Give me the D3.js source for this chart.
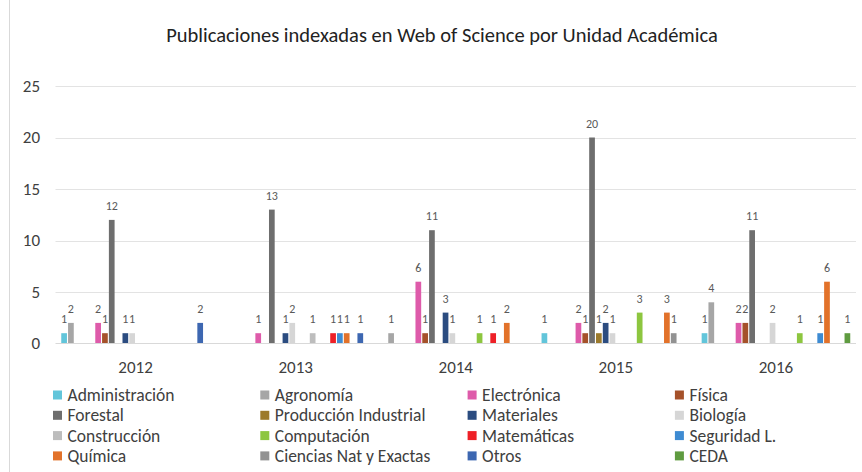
<!DOCTYPE html>
<html>
<head>
  <meta charset="UTF-8">
  <title>Publicaciones indexadas en Web of Science</title>
  <style>
    body { margin: 0; background: #fff; }
    svg { display: block; font-family: Carlito, Lato, "Open Sans", sans-serif; }
  </style>
</head>
<body>
<svg></svg>
<script src="https://d3js.org/d3.v7.min.js"></script>
<script>

let width = 862, height = 472;

// years on the x axis
const years = ["2012", "2013", "2014", "2015", "2016"];

// series in plot order; "" are empty series that still take a slot in each group
const series = ["Administración", "Agronomía", "", "", "",
  "Electrónica", "Física", "Forestal", "Producción Industrial", "Materiales", "Biología",
  "", "", "Construcción", "Computación", "",
  "Matemáticas", "Seguridad L.", "Química", "Ciencias Nat y Exactas", "Otros", "CEDA"];

const colors = ["#62C5DA", "#A6A6A6", "#fff", "#fff", "#fff",
  "#DE5BAA", "#A5512A", "#6E6E6E", "#9C7A2B", "#2B4C80", "#D6D6D6",
  "#fff", "#fff", "#BDBDBD", "#8DC63F", "#fff",
  "#EE2027", "#3E8BD2", "#E2722A", "#929292", "#3D67B1", "#5F9B40"];

// values per series, one per year (null = no bar)
const values = [
  [1, null, null, 1, 1],        // Administración
  [2, null, 1, null, 4],        // Agronomía
  [null, null, null, null, null],
  [null, null, null, null, null],
  [null, null, null, null, null],
  [2, 1, 6, 2, 2],              // Electrónica
  [1, null, 1, 1, 2],           // Física
  [12, 13, 11, 20, 11],         // Forestal
  [null, null, null, 1, null],  // Producción Industrial
  [1, 1, 3, 2, null],           // Materiales
  [1, 2, 1, 1, 2],              // Biología
  [null, null, null, null, null],
  [null, null, null, null, null],
  [null, 1, null, null, null],  // Construcción
  [null, null, 1, 3, 1],        // Computación
  [null, null, null, null, null],
  [null, 1, 1, null, null],     // Matemáticas
  [null, 1, null, null, 1],     // Seguridad L.
  [null, 1, 2, 3, 6],           // Química
  [null, null, null, 1, null],  // Ciencias Nat y Exactas
  [2, 1, null, null, null],     // Otros
  [null, null, null, null, 1]   // CEDA
];

const yTicks = [0, 5, 10, 15, 20, 25];

let svg = d3.select("svg")
    .attr("width", width)
    .attr("height", height);

// chart border on the left
svg.append("line")
  .attr("x1", 9.5).attr("x2", 9.5)
  .attr("y1", 0).attr("y2", height)
  .attr("stroke", "#d9d9d9");

svg.append("text")
  .attr("x", 442)
  .attr("y", 42)
  .attr("text-anchor", "middle")
  .style("font-size", "20.5px")
  .style("fill", "#222")
  .text("Publicaciones indexadas en Web of Science por Unidad Académica");

const plotLeft = 55.5, plotRight = 856;

const x = d3.scaleBand()
  .domain(years)
  .range([plotLeft, plotRight])
  .paddingInner(0.065)
  .paddingOuter(0.0325);

const xs = d3.scaleBand()
  .domain(d3.range(series.length))
  .range([0, x.bandwidth()]);

const y = d3.scaleLinear()
  .domain([0, 25])
  .range([343.5, 86]);

// gridlines
svg.append("g")
  .selectAll("line")
  .data(yTicks.slice(1))
  .enter()
  .append("line")
    .attr("x1", plotLeft).attr("x2", plotRight)
    .attr("y1", d => Math.round(y(d)) + 0.5).attr("y2", d => Math.round(y(d)) + 0.5)
    .attr("stroke", "#e3e3e3");

// y labels
svg.append("g")
  .selectAll("text")
  .data(yTicks)
  .enter()
  .append("text")
    .attr("x", 40)
    .attr("y", d => y(d))
    .attr("dy", "0.35em")
    .attr("text-anchor", "end")
    .style("font-size", "17px")
    .style("fill", "#404040")
    .text(d => d);

// bars
let bars = [];
values.forEach((row, s) => {
  row.forEach((v, i) => {
    if (v != null) bars.push({s: s, year: years[i], v: v});
  });
});

svg.append("g")
  .selectAll("rect")
  .data(bars)
  .enter()
  .append("rect")
    .attr("x", d => x(d.year) + xs(d.s) + 0.55)
    .attr("y", d => y(d.v))
    .attr("width", xs.bandwidth() - 1.1)
    .attr("height", d => y(0) - y(d.v))
    .attr("fill", d => colors[d.s]);

// data labels
svg.append("g")
  .selectAll("text")
  .data(bars)
  .enter()
  .append("text")
    .attr("x", d => x(d.year) + xs(d.s) + xs.bandwidth() / 2)
    .attr("y", d => y(d.v) - 10)
    .attr("text-anchor", "middle")
    .style("font-size", "12px")
    .style("fill", "#595959")
    .text(d => d.v);

// x axis line
svg.append("line")
  .attr("x1", plotLeft).attr("x2", plotRight)
  .attr("y1", 343.5).attr("y2", 343.5)
  .attr("stroke", "#d9d9d9");

// year labels
svg.append("g")
  .selectAll("text")
  .data(years)
  .enter()
  .append("text")
    .attr("x", d => x(d) + x.bandwidth() / 2)
    .attr("y", 367)
    .attr("dy", "0.35em")
    .attr("text-anchor", "middle")
    .style("font-size", "17px")
    .style("fill", "#404040")
    .text(d => d);

// legend, 4 columns, row by row
let legendItems = series.map((name, s) => ({name: name, s: s})).filter(d => d.name !== "");
let legend = svg.append("g")
  .selectAll("g")
  .data(legendItems)
  .enter()
  .append("g")
    .attr("transform", (d, i) => "translate(" + (53 + (i % 4) * 207.3) + "," + (395 + Math.floor(i / 4) * 20.3) + ")");

legend.append("rect")
  .attr("x", 0).attr("y", -4.5)
  .attr("width", 9).attr("height", 9)
  .attr("fill", d => colors[d.s]);

legend.append("text")
  .attr("x", 14.5)
  .attr("y", 0)
  .attr("dy", "0.35em")
  .style("font-size", "17.5px")
  .style("fill", "#404040")
  .text(d => d.name);

</script>
</body>
</html>
